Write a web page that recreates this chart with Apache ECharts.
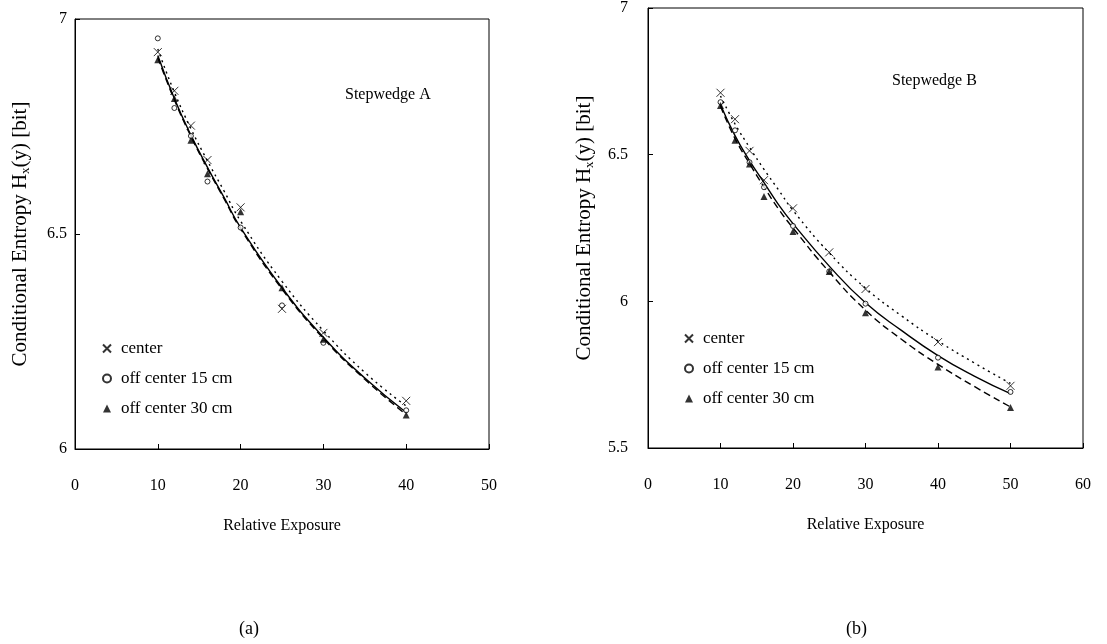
<!DOCTYPE html>
<html>
<head>
<meta charset="utf-8">
<style>html,body{margin:0;padding:0;background:#fff}#c{width:1107px;height:644px}</style>
<script src="https://cdn.jsdelivr.net/npm/echarts@6/dist/echarts.min.js"></script>
</head>
<body>
<div id="c"></div>
<script>
// ---- Data ----
var seriesNames = ['center', 'off center 15 cm', 'off center 30 cm'];
var xTicksA = [0, 10, 20, 30, 40, 50];
var xTicksB = [0, 10, 20, 30, 40, 50, 60];

// Stepwedge A measurements
var expA = [10, 12, 14, 16, 20, 25, 30, 40];
var centerA = [6.923, 6.833, 6.752, 6.672, 6.562, 6.326, 6.270, 6.112];
var off15A  = [6.955, 6.793, 6.728, 6.622, 6.515, 6.334, 6.247, 6.090];
var off30A  = [6.905, 6.815, 6.718, 6.640, 6.552, 6.375, 6.255, 6.079];
// Stepwedge A fitted curves
var fitXA = [10, 12, 14, 16, 18, 20, 25, 30, 35, 40];
var fitCenterA = [6.930, 6.830, 6.745, 6.670, 6.600, 6.530, 6.390, 6.275, 6.178, 6.100];
var fit15A     = [6.915, 6.815, 6.730, 6.655, 6.585, 6.515, 6.375, 6.260, 6.165, 6.085];
var fit30A     = [6.910, 6.812, 6.727, 6.652, 6.582, 6.512, 6.372, 6.257, 6.162, 6.080];

// Stepwedge B measurements
var expB = [10, 12, 14, 16, 20, 25, 30, 40, 50];
var centerB = [6.711, 6.621, 6.513, 6.413, 6.317, 6.167, 6.042, 5.861, 5.712];
var off15B  = [6.679, 6.583, 6.474, 6.389, 6.257, 6.102, 5.992, 5.808, 5.691];
var off30B  = [6.668, 6.549, 6.468, 6.357, 6.238, 6.102, 5.961, 5.776, 5.638];
// Stepwedge B fitted curves
var fitXB = [10, 12, 14, 16, 18, 20, 25, 30, 35, 40, 45, 50];
var fitCenterB = [6.700, 6.605, 6.525, 6.450, 6.380, 6.310, 6.165, 6.045, 5.950, 5.865, 5.790, 5.720];
var fit15B     = [6.670, 6.565, 6.480, 6.405, 6.330, 6.265, 6.120, 5.995, 5.900, 5.815, 5.745, 5.685];
var fit30B     = [6.665, 6.555, 6.470, 6.390, 6.315, 6.250, 6.100, 5.970, 5.870, 5.785, 5.710, 5.640];

function pairs(xs, ys) { return xs.map(function (x, i) { return [x, ys[i]]; }); }

var FONT = '"Liberation Serif", "DejaVu Serif", serif';
var crossPath = 'path://M0,0L10,10M10,0L0,10';

function xAxis(idx, ticks) {
  return {
    type: 'value', gridIndex: idx, min: ticks[0], max: ticks[ticks.length - 1], interval: 10,
    name: 'Relative Exposure', nameLocation: 'middle', nameGap: 69,
    nameTextStyle: { fontFamily: FONT, fontSize: 16, color: '#000' },
    axisLine: { lineStyle: { color: '#000', width: 1 } },
    axisTick: { inside: true, length: 5, lineStyle: { color: '#000' } },
    axisLabel: { margin: 29, fontFamily: FONT, fontSize: 16, color: '#000' },
    splitLine: { show: false }
  };
}
function yAxis(idx, min, gap, margin) {
  return {
    type: 'value', gridIndex: idx, min: min, max: 7, interval: 0.5,
    name: '{n|Conditional Entropy H}{s|x}{n|(y) [bit]}', nameLocation: 'middle', nameGap: gap,
    nameTextStyle: {
      color: '#000',
      rich: {
        n: { fontFamily: FONT, fontSize: 21, color: '#000', lineHeight: 24 },
        s: { fontFamily: FONT, fontSize: 13, color: '#000', verticalAlign: 'bottom', lineHeight: 24 }
      }
    },
    axisLine: { show: true, lineStyle: { color: '#000', width: 1 } },
    axisTick: { show: true, inside: true, length: 5, lineStyle: { color: '#000' } },
    axisLabel: { margin: margin, fontFamily: FONT, fontSize: 16, color: '#000',
      formatter: function (v) { return String(Math.round(v * 10) / 10); } },
    splitLine: { show: false }
  };
}
function scatterSet(idx, xs, c, o15, o30) {
  return [
    { name: seriesNames[0], type: 'scatter', xAxisIndex: idx, yAxisIndex: idx, data: pairs(xs, c),
      symbol: crossPath, symbolSize: 8,
      itemStyle: { color: 'rgba(0,0,0,0)', borderColor: '#000', borderWidth: 1 }, z: 5 },
    { name: seriesNames[1], type: 'scatter', xAxisIndex: idx, yAxisIndex: idx, data: pairs(xs, o15),
      symbol: 'circle', symbolSize: 5,
      itemStyle: { color: '#fff', borderColor: '#000', borderWidth: 1 }, z: 5 },
    { name: seriesNames[2], type: 'scatter', xAxisIndex: idx, yAxisIndex: idx, data: pairs(xs, o30),
      symbol: 'triangle', symbolSize: 7,
      itemStyle: { color: '#000' }, z: 5 }
  ];
}
function lineSet(idx, xs, c, o15, o30, tag) {
  function ln(ys, type, nm) {
    return { name: nm, type: 'line', xAxisIndex: idx, yAxisIndex: idx, data: pairs(xs, ys),
      smooth: true, showSymbol: false, silent: true,
      lineStyle: { color: '#000', width: 1.4, type: type }, z: 3 };
  }
  return [
    ln(c, [2, 4], 'fit center ' + tag),
    ln(o15, 'solid', 'fit 15 ' + tag),
    ln(o30, [7, 4], 'fit 30 ' + tag)
  ];
}

var legendCommon = {
  orient: 'vertical', itemGap: 13, itemWidth: 8, itemHeight: 8,
  textStyle: { fontFamily: FONT, fontSize: 17, color: '#000', padding: [0, 0, 0, 5] },
  data: seriesNames, selectedMode: false
};

var option = {
  backgroundColor: '#fff',
  animation: false,
  grid: [
    { left: 75, top: 19, width: 414, height: 430, show: true, borderColor: '#000', borderWidth: 1, backgroundColor: 'transparent' },
    { left: 648, top: 8, width: 435, height: 440, show: true, borderColor: '#000', borderWidth: 1, backgroundColor: 'transparent' }
  ],
  xAxis: [xAxis(0, xTicksA), xAxis(1, xTicksB)],
  yAxis: [yAxis(0, 6, 43, 8), yAxis(1, 5.5, 52, 20)],
  legend: [
    Object.assign({ left: 97, top: 335 }, legendCommon),
    Object.assign({ left: 679, top: 325 }, legendCommon)
  ],
  graphic: [
    { type: 'text', left: 345, top: 87, style: { text: 'Stepwedge A', font: '16px ' + FONT, fill: '#000' } },
    { type: 'text', left: 892, top: 73, style: { text: 'Stepwedge B', font: '16px ' + FONT, fill: '#000' } },
    { type: 'text', left: 239, top: 620, style: { text: '(a)', font: '18px ' + FONT, fill: '#000' } },
    { type: 'text', left: 846, top: 620, style: { text: '(b)', font: '18px ' + FONT, fill: '#000' } }
  ],
  series: [].concat(
    lineSet(0, fitXA, fitCenterA, fit15A, fit30A, 'A'),
    scatterSet(0, expA, centerA, off15A, off30A),
    lineSet(1, fitXB, fitCenterB, fit15B, fit30B, 'B'),
    scatterSet(1, expB, centerB, off15B, off30B)
  )
};

var chart = echarts.init(document.getElementById('c'), null, { renderer: 'canvas' });
chart.setOption(option);
</script>
</body>
</html>
